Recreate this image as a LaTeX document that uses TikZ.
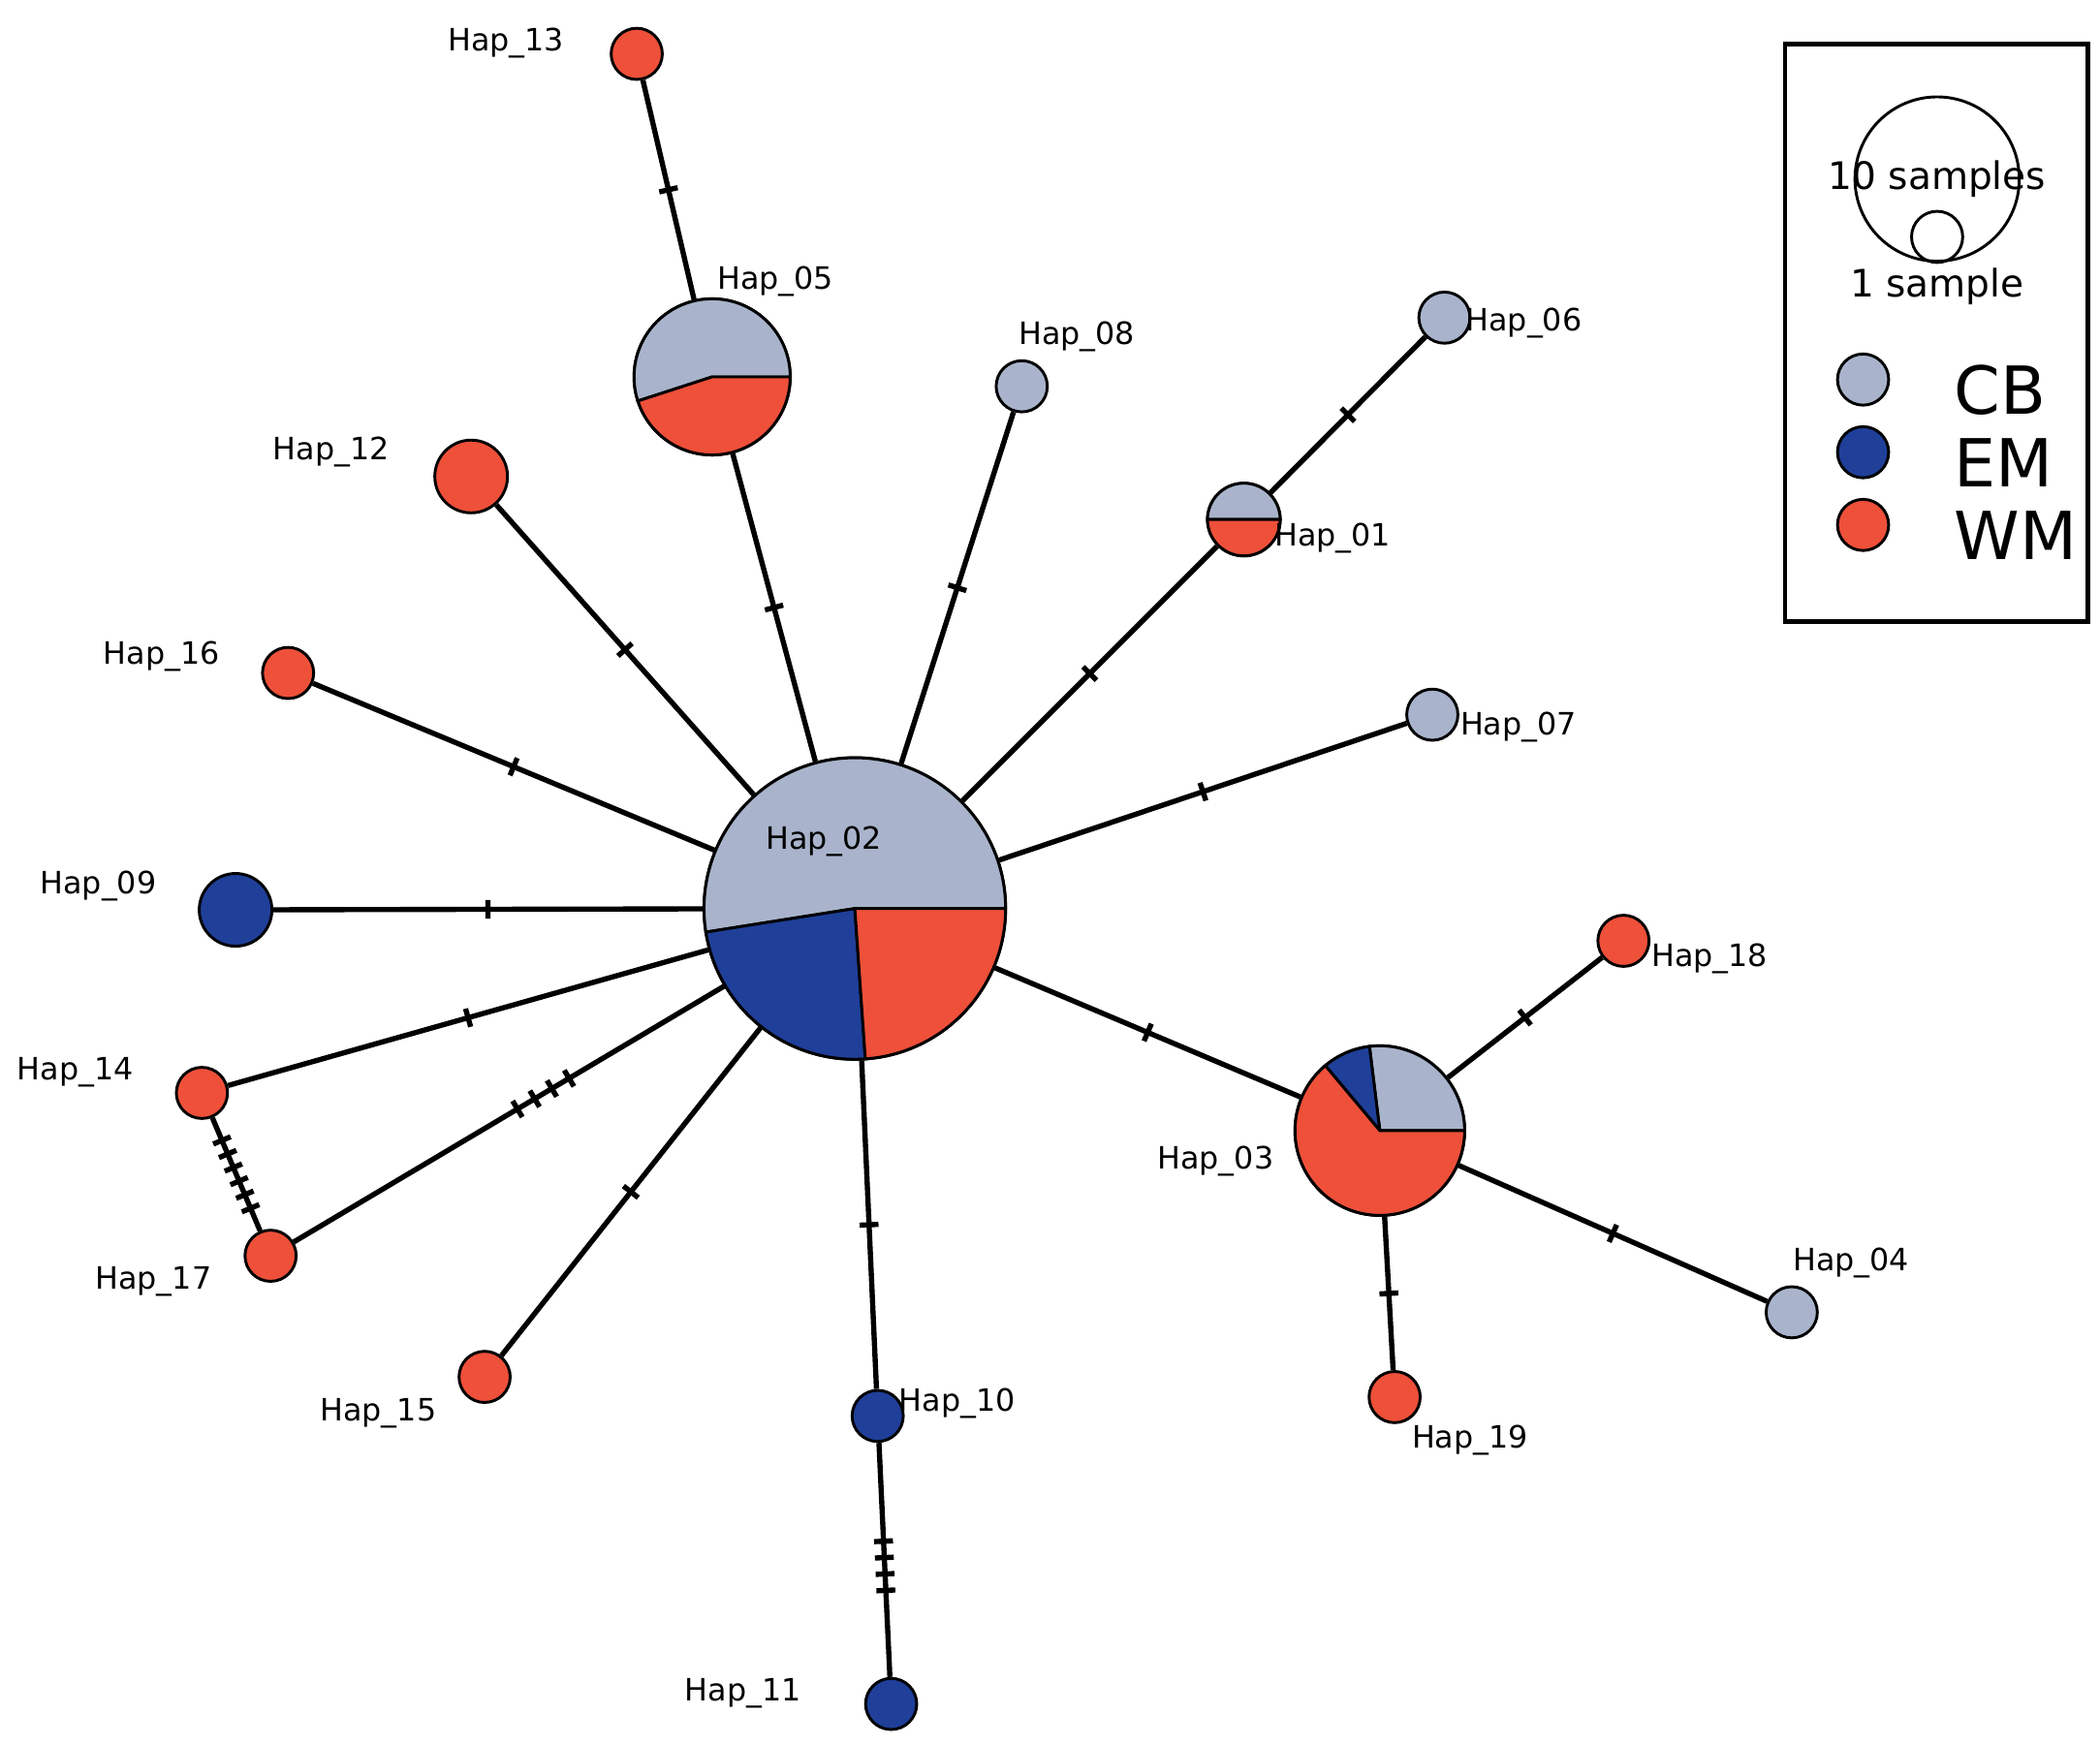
\documentclass[tikz,border=0pt]{standalone}
\usepackage{fontspec}
\setmainfont{DejaVu Sans}
\definecolor{cb}{HTML}{A9B4CC}
\definecolor{em}{HTML}{1F3F99}
\definecolor{wm}{HTML}{EE503A}
\begin{document}
\begin{tikzpicture}[x=0.01cm,y=-0.01cm,line width=1.1pt,
  hap/.style={circle,draw=black,line width=0.6pt,inner sep=0pt,minimum size=0.38cm},
  lab/.style={font=\fontsize{6.5}{7}\selectfont},
  tick/.style={sloped,draw,inner sep=0pt,minimum width=0pt,minimum height=0.14cm,line width=1.1pt},
  edge/.style={line width=1.1pt}]
\useasboundingbox (0,0) rectangle (1560,1296);
% haplotype circles
\node[hap,minimum size=2.24cm] (h02) at (635,675) {};
\node[hap,minimum size=1.16cm] (h05) at (529,280) {};
\node[hap,minimum size=0.54cm] (h01) at (924,386) {};
\node[hap,minimum size=1.26cm] (h03) at (1025,840) {};
\node[hap,fill=wm] (h13) at (473,40) {};
\node[hap,fill=cb] (h08) at (759,287) {};
\node[hap,fill=cb] (h06) at (1073,236) {};
\node[hap,fill=wm,minimum size=0.54cm] (h12) at (350,354) {};
\node[hap,fill=wm] (h16) at (214,500) {};
\node[hap,fill=cb] (h07) at (1064,531) {};
\node[hap,fill=em,minimum size=0.54cm] (h09) at (175,676) {};
\node[hap,fill=wm] (h14) at (150,812) {};
\node[hap,fill=wm] (h17) at (201,933) {};
\node[hap,fill=wm] (h15) at (360,1023) {};
\node[hap,fill=em] (h10) at (652,1052) {};
\node[hap,fill=em] (h11) at (662,1266) {};
\node[hap,fill=wm] (h18) at (1206,699) {};
\node[hap,fill=cb] (h04) at (1331,975) {};
\node[hap,fill=wm] (h19) at (1036,1038) {};
% pie charts
\foreach \c/\r/\a/\b/\col in {h02/112/0/189/cb, h02/112/189/274/em, h02/112/274/360/wm,
  h05/58/0/198/cb, h05/58/198/360/wm, h01/27/0/180/cb, h01/27/180/360/wm,
  h03/63/0/97/cb, h03/63/97/130/em, h03/63/130/360/wm}
  \filldraw[fill=\col,draw=black,line width=0.6pt] (\c.center) -- +(-\a:\r) arc[start angle=-\a,end angle=-\b,radius=\r] -- cycle;
% edges with mutation ticks
\foreach \a/\b in {h13/h05,h05/h02,h02/h08,h02/h01,h01/h06,h02/h12,h02/h16,h02/h07,
  h02/h09,h02/h14,h02/h15,h02/h10,h02/h03,h03/h18,h03/h04,h03/h19}
  \draw[edge] (\a) -- (\b) node[tick,pos=0.5] {};
\draw[edge] (h02) -- (h17) foreach \p in {0.36,0.4,0.44,0.48} {node[tick,pos=\p] {}};
\draw[edge] (h14) -- (h17) foreach \p in {0.2,0.32,0.44,0.56,0.68,0.8} {node[tick,pos=\p] {}};
\draw[edge] (h10) -- (h11) foreach \p in {0.42,0.49,0.56,0.63} {node[tick,pos=\p] {}};
% labels
\foreach \t/\x/\y in {13/376/32, 05/576/209, 08/800/250, 06/1132/240, 12/246/336, 01/990/400,
  16/120/488, 07/1128/540, 02/612/625, 09/73/658, 18/1270/712, 14/56/797, 03/903/863,
  04/1375/938, 17/114/952, 15/281/1050, 10/711/1043, 19/1092/1070, 11/552/1258}
  \node[lab] (l\t) at (\x,\y) {Hap\_\t};
% legend
\draw[line width=1pt] (1326,33) rectangle (1551,462);
\node[circle,draw,line width=0.6pt,minimum size=1.22cm,inner sep=0pt] (big) at (1439,133) {};
\node[circle,draw,line width=0.6pt,minimum size=0.38cm,inner sep=0pt] (small) at (1439,176) {};
\node[font=\fontsize{8}{9}\selectfont] (t10) at (1439,133) {10 samples};
\node[font=\fontsize{8}{9}\selectfont] (t1) at (1439,213) {1 sample};
\foreach \col/\t/\y in {cb/CB/282, em/EM/336, wm/WM/390} {
  \node[hap,fill=\col] (k\t) at (1384,\y) {};
  \node[font=\fontsize{14}{16}\selectfont,anchor=west] (n\t) at (1438,\y+8) {\t};
}
\end{tikzpicture}
\end{document}
